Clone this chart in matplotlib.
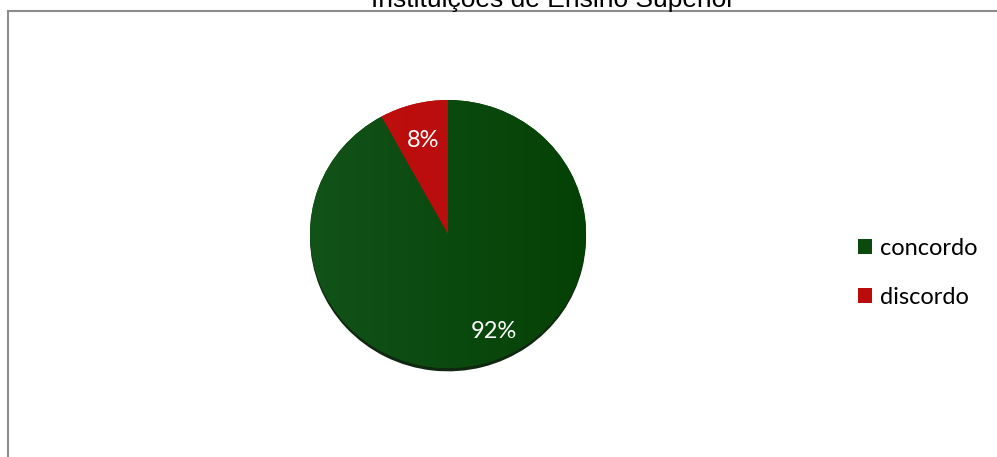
import numpy as np
import matplotlib
matplotlib.use("Agg")
import matplotlib.pyplot as plt
from matplotlib.lines import Line2D
from matplotlib.colors import LinearSegmentedColormap

# ---- data ----
title = "Instituições de Ensino Superior"
categories = ["concordo", "discordo"]
values = [92, 8]
pct_labels = ["92%", "8%"]
colors = ["#0a4a0c", "#bb0c0c"]
grad_left = ["#12531a", "#c21010"]
grad_right = ["#044104", "#b20a0a"]

W, H = 997, 457
fig = plt.figure(figsize=(W / 100, H / 100), dpi=100)
fig.patch.set_facecolor("white")

# border lines (chart frame)
fig.add_artist(Line2D([8 / W, 8 / W], [0, 1 - 11 / H], transform=fig.transFigure,
                      color="#8c8c8c", lw=1.5))
fig.add_artist(Line2D([8 / W, 1], [1 - 11 / H, 1 - 11 / H], transform=fig.transFigure,
                      color="#8c8c8c", lw=1.5))

# title (partially cut off at top, as in the reference)
fig.text(553 / W, 1 - 7 / H, title, ha="center", va="baseline",
         fontsize=19, family="Liberation Sans", color="#000000")

# pie axes
cx, cy, rx, ry = 448, 234, 138, 134
ax = fig.add_axes([(cx - rx) / W, 1 - (cy + ry) / H, 2 * rx / W, 2 * ry / H])

# shadow
sh, _ = ax.pie(values, startangle=90, counterclock=False, radius=1.0,
               center=(0.0, -0.025), colors=["#102810", "#102810"],
               wedgeprops=dict(linewidth=0), frame=True)
for w in sh:
    w.set_zorder(0)
    w.set_clip_on(False)

wedges, _ = ax.pie(values, startangle=90, counterclock=False, radius=1.0,
                   colors=colors, wedgeprops=dict(linewidth=0), frame=True)
ax.set_xlim(-1, 1)
ax.set_ylim(-1, 1)
ax.set_aspect("auto")
ax.axis("off")

# gradient fills clipped to wedges
xs = np.linspace(0, 1, 256)
grad = np.tile(xs, (16, 1))
for w, cl, cr in zip(wedges, grad_left, grad_right):
    cmap = LinearSegmentedColormap.from_list("g", [cl, cr])
    im = ax.imshow(grad, extent=[-1, 1, -1, 1], cmap=cmap, aspect="auto",
                   zorder=2, interpolation="bilinear")
    im.set_clip_path(w)
    w.set_zorder(1)
ax.set_xlim(-1, 1)
ax.set_ylim(-1, 1)

# percentage labels: placed along each wedge's bisector
label_dist = [0.80, 0.72]
angle_shift = [10, 0]
for w, lab, d, s in zip(wedges, pct_labels, label_dist, angle_shift):
    ang = np.deg2rad((w.theta1 + w.theta2) / 2 + s)
    ax.text(d * np.cos(ang), d * np.sin(ang), lab, ha="center", va="center",
            color="white", fontsize=17, family="Lato", zorder=5)

# legend
handles = [plt.Rectangle((0, 0), 1, 1, facecolor=c, edgecolor="none") for c in colors]
leg = fig.legend(handles, categories, loc="center left",
                 bbox_to_anchor=(848.5 / W, 1 - 273 / H), frameon=False,
                 prop=dict(family="Lato", size=17), handlelength=0.6,
                 handleheight=0.6, handletextpad=0.35, labelspacing=1.17,
                 borderaxespad=0)

fig.savefig("out.png", dpi=100, facecolor="white")
